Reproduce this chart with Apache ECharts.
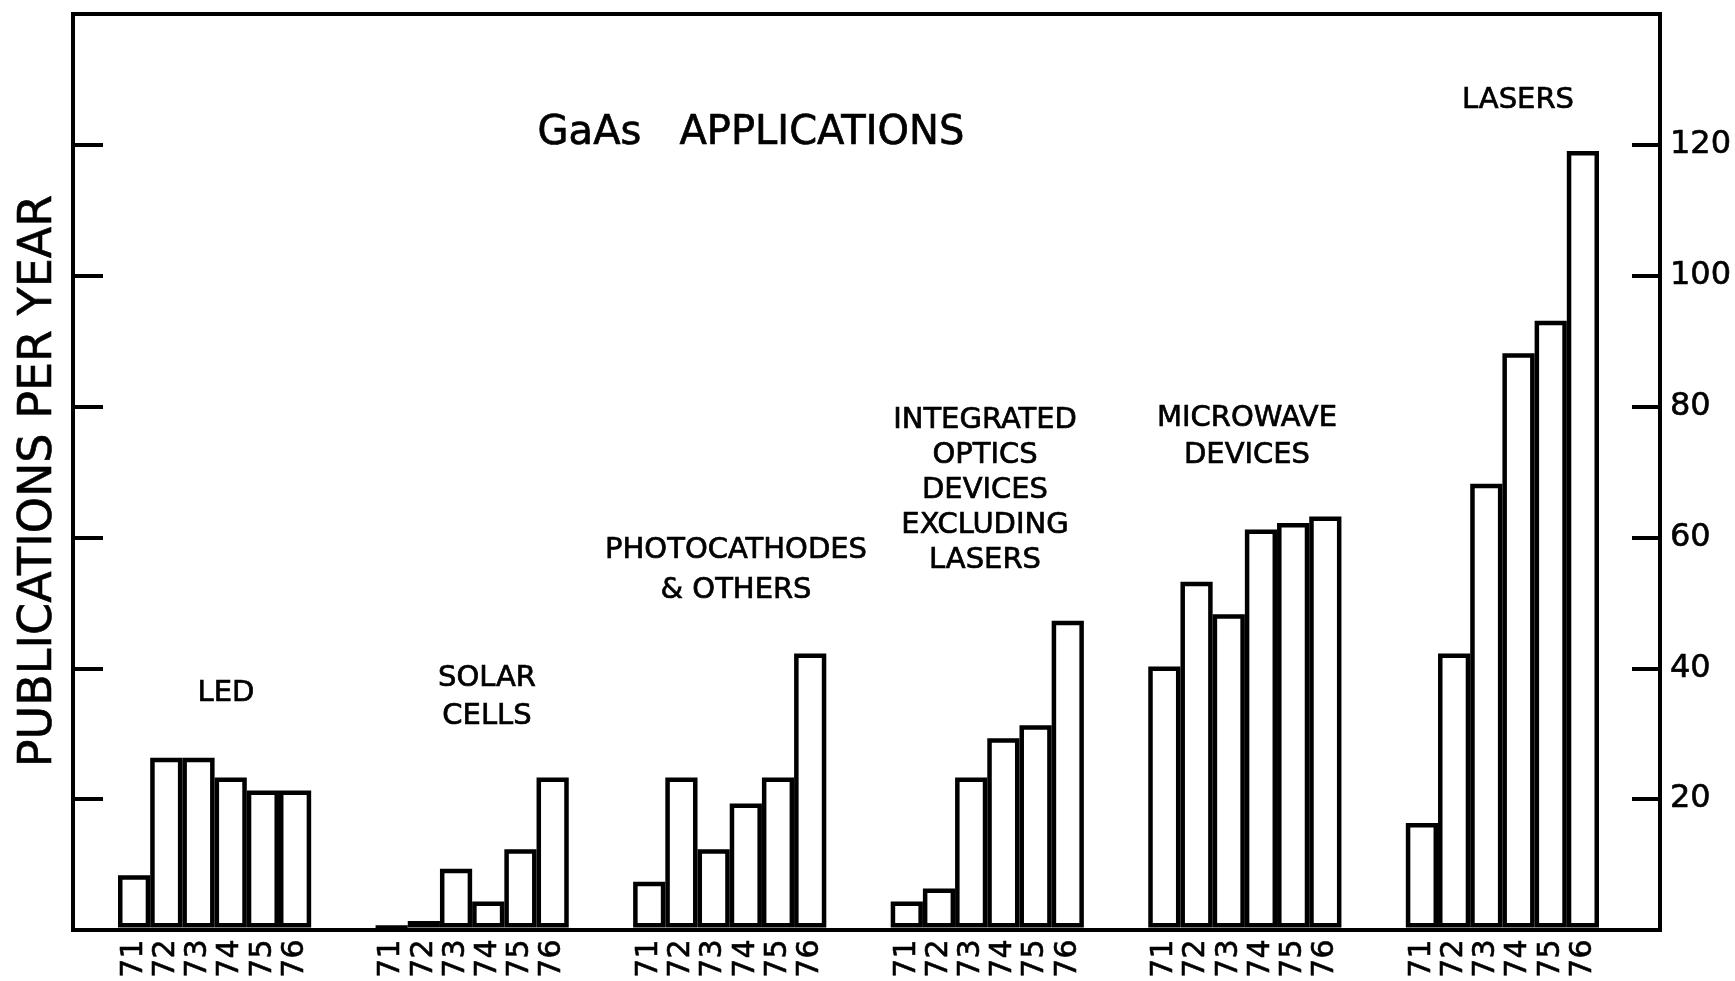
<!DOCTYPE html>
<html>
<head>
<meta charset="utf-8">
<script src="https://cdn.jsdelivr.net/npm/echarts@6/dist/echarts.min.js"></script>
<style>
  html, body { margin: 0; padding: 0; background: #fff; }
  #chart { width: 1735px; height: 981px; }
</style>
</head>
<body>
<div id="chart"></div>
<script>
// publications per year
const years = ['71', '72', '73', '74', '75', '76'];
const groupNames = ['LED', 'SOLAR CELLS', 'PHOTOCATHODES & OTHERS',
  'INTEGRATED OPTICS', 'MICROWAVE DEVICES', 'LASERS'];
const led = [8, 26, 26, 23, 21, 21];
const solarCells = [0, 1, 9, 4, 12, 23];
const photocathodes = [7, 23, 12, 19, 23, 42];
const integratedOptics = [4, 6, 23, 29, 31, 47];
const microwave = [40, 53, 48, 61, 62, 63];
const lasers = [16, 42, 68, 88, 93, 119];
const yTicks = [20, 40, 60, 80, 100, 120];

const FONT = 'DejaVu Sans';
const groupValues = [led, solarCells, photocathodes, integratedOptics, microwave, lasers];

// one category per bar, two empty slots between the groups
let categories = [];
let values = [];
groupValues.forEach(function (vals, g) {
  if (g > 0) {
    categories.push('gap' + g + 'a', 'gap' + g + 'b');
    values.push('-', '-');
  }
  vals.forEach(function (v, i) {
    categories.push(groupNames[g] + '|' + years[i]);
    values.push(v);
  });
});

var chart = echarts.init(document.getElementById('chart'));

function label(text, x, y, lh) {
  return {
    type: 'text',
    x: x,
    y: y,
    style: {
      text: text,
      font: '29px "' + FONT + '"',
      fill: '#000',
      stroke: '#000',
      lineWidth: 0.7,
      align: 'center',
      verticalAlign: 'middle',
      lineHeight: lh || 36
    }
  };
}

const option = {
  animation: false,
  backgroundColor: '#fff',
  textStyle: { fontFamily: FONT, color: '#000' },
  grid: [
    // frame
    { left: 73, top: 14, right: 75, bottom: 51, show: true,
      borderColor: '#000', borderWidth: 4, backgroundColor: 'transparent' },
    // bars
    { left: 118, top: 14, right: 136, bottom: 51 }
  ],
  xAxis: [
    { gridIndex: 0, type: 'value', min: 0, max: 1, show: false },
    {
      gridIndex: 1,
      type: 'category',
      data: categories,
      axisLine: { show: false },
      axisTick: { show: false },
      axisLabel: {
        interval: 0,
        rotate: 90,
        margin: 12,
        fontSize: 30,
        fontFamily: FONT,
        color: '#000',
        textBorderColor: '#000',
        textBorderWidth: 0.6,
        formatter: function (v) {
          return v.indexOf('|') >= 0 ? v.split('|')[1] : '';
        }
      }
    }
  ],
  yAxis: [
    {
      gridIndex: 0,
      type: 'value',
      position: 'left',
      min: 0, max: 140, interval: 20,
      name: 'PUBLICATIONS PER YEAR',
      nameLocation: 'middle',
      nameRotate: 90,
      nameGap: 11,
      nameTextStyle: { fontSize: 46, fontFamily: FONT, color: '#000',
        textBorderColor: '#000', textBorderWidth: 0.6, padding: [0, 18, 0, 0] },
      axisLine: { show: false },
      axisTick: { show: true, inside: true, length: 30, lineStyle: { color: '#000', width: 4 } },
      axisLabel: { show: false },
      splitLine: { show: false }
    },
    {
      gridIndex: 0,
      type: 'value',
      position: 'right',
      min: 0, max: 140, interval: 20,
      axisLine: { show: false },
      axisTick: { show: true, inside: true, length: 28, lineStyle: { color: '#000', width: 4 } },
      axisLabel: {
        margin: 10,
        fontSize: 32,
        fontFamily: FONT,
        color: '#000',
        textBorderColor: '#000',
        textBorderWidth: 0.6,
        formatter: function (v) { return yTicks.indexOf(v) >= 0 ? String(v) : ''; }
      },
      splitLine: { show: false }
    },
    { gridIndex: 1, type: 'value', min: 0, max: 140, show: false }
  ],
  series: [
    {
      type: 'bar',
      xAxisIndex: 1,
      yAxisIndex: 2,
      data: values,
      barCategoryGap: '0%',
      itemStyle: { color: '#fff', borderColor: '#000', borderWidth: 4.5 }
    }
  ],
  graphic: [
    {
      type: 'text', x: 751, y: 134,
      style: { text: 'GaAs   APPLICATIONS', font: '40px "' + FONT + '"',
        fill: '#000', stroke: '#000', lineWidth: 0.7,
        align: 'center', verticalAlign: 'middle' }
    },
    label('LED', 226, 693),
    label('SOLAR\nCELLS', 487, 697, 38),
    label('PHOTOCATHODES\n& OTHERS', 736, 570, 40),
    label('INTEGRATED\nOPTICS\nDEVICES\nEXCLUDING\nLASERS', 985, 490, 35),
    label('MICROWAVE\nDEVICES', 1247, 437, 36.5),
    label('LASERS', 1518, 100)
  ]
};

chart.setOption(option);
window.addEventListener('resize', function () {
  chart.resize();
});
</script>
</body>
</html>
